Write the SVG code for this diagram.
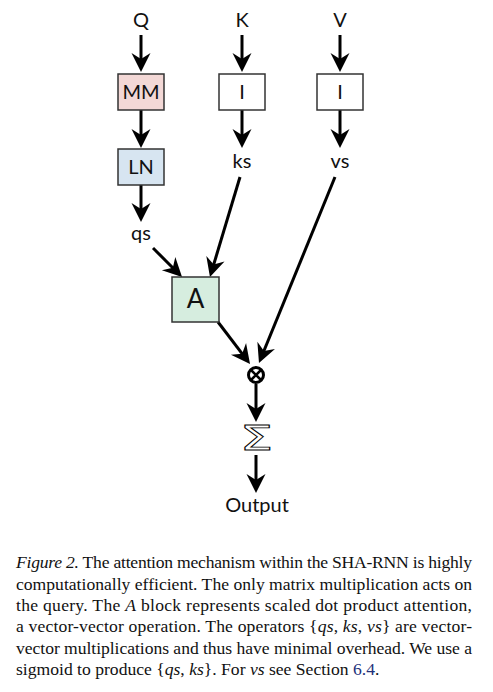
<svg xmlns="http://www.w3.org/2000/svg" width="493" height="692" viewBox="0 0 493 692">
<style>
.lbl{font-family:Lato,"Open Sans","DejaVu Sans",sans-serif;font-size:20px;fill:#111;text-anchor:middle}
.box{stroke:#333;stroke-width:1.5}
.cap{font-family:"Liberation Serif","Times New Roman",serif;font-size:17.6px;fill:#111}
.it{font-style:italic}
.edge{stroke:#000;stroke-width:3;fill:none}
</style>
<defs>
<marker id="ah" viewBox="0 0 20 20" refX="16" refY="10" markerWidth="20" markerHeight="20" markerUnits="userSpaceOnUse" orient="auto">
<path d="M1,0.5 L20,10 L1,19.5 L7,10 z" fill="#000"/>
</marker>
</defs>
<rect width="493" height="692" fill="#fff"/>
<g id="connectors" class="edge" marker-end="url(#ah)">
<line x1="141" y1="35" x2="141" y2="68"/>
<line x1="141" y1="110" x2="141" y2="144"/>
<line x1="141" y1="185" x2="141" y2="218"/>
<line x1="242" y1="35" x2="242" y2="68"/>
<line x1="340" y1="35" x2="340" y2="68"/>
<line x1="242" y1="110" x2="242" y2="144"/>
<line x1="340" y1="110" x2="340" y2="144"/>
<line x1="153" y1="248" x2="179.2" y2="274.2"/>
<line x1="240" y1="177" x2="211.1" y2="273.2"/>
<line x1="218" y1="322" x2="247.6" y2="360.8"/>
<line x1="335" y1="177" x2="260.5" y2="359.3"/>
<line x1="256" y1="384" x2="256" y2="418"/>
<line x1="256" y1="455" x2="256" y2="489"/>
</g>
<g id="Q"><text class="lbl" x="141" y="27">Q</text></g>
<g id="K"><text class="lbl" x="242" y="27">K</text></g>
<g id="V"><text class="lbl" x="340" y="27">V</text></g>
<g id="MM"><rect class="box" x="118" y="74" width="46" height="36" fill="#f3d8d6"/><text class="lbl" x="141" y="99">MM</text></g>
<g id="LN"><rect class="box" x="118" y="149" width="46" height="36" fill="#d7e5f1"/><text class="lbl" x="141" y="174">LN</text></g>
<g id="IK"><rect class="box" x="219" y="74" width="46" height="36" fill="#fff"/><text class="lbl" x="242" y="99">I</text></g>
<g id="IV"><rect class="box" x="317" y="74" width="46" height="36" fill="#fff"/><text class="lbl" x="340" y="99">I</text></g>
<g id="ks"><text class="lbl" x="242" y="168">ks</text></g>
<g id="vs"><text class="lbl" x="340" y="168">vs</text></g>
<g id="qs"><text class="lbl" x="141" y="240">qs</text></g>
<g id="A"><rect class="box" x="172" y="277" width="47" height="45" fill="#d6eddf"/><text class="lbl" x="195.5" y="308" style="font-size:26px">A</text></g>
<g id="mult">
<circle cx="256" cy="375" r="7.5" fill="#fff" stroke="#000" stroke-width="3"/>
<path d="M251,370 L261,380 M261,370 L251,380" stroke="#000" stroke-width="2.5"/>
</g>
<g id="sum"><text x="0" y="0" transform="translate(256.5,450) scale(1.55,1)" style="font-family:'DejaVu Sans',sans-serif;font-size:34px;text-anchor:middle;fill:#fff;stroke:#000;stroke-width:0.8">Σ</text></g>
<g id="Output"><text class="lbl" x="257" y="512">Output</text></g>
<g id="caption" class="cap">
<text x="16" y="568" textLength="456" lengthAdjust="spacing"><tspan class="it">Figure 2.</tspan> The attention mechanism within the SHA-RNN is highly</text>
<text x="16" y="589.5" textLength="456" lengthAdjust="spacing">computationally efficient. The only matrix multiplication acts on</text>
<text x="16" y="611" textLength="456" lengthAdjust="spacing">the query. The <tspan class="it">A</tspan> block represents scaled dot product attention,</text>
<text x="16" y="632" textLength="456" lengthAdjust="spacing">a vector-vector operation. The operators {<tspan class="it">qs</tspan>, <tspan class="it">ks</tspan>, <tspan class="it">vs</tspan>} are vector-</text>
<text x="16" y="653.5" textLength="456" lengthAdjust="spacing">vector multiplications and thus have minimal overhead. We use a</text>
<text x="16" y="675">sigmoid to produce {<tspan class="it">qs</tspan>, <tspan class="it">ks</tspan>}. For <tspan class="it">vs</tspan> see Section <tspan fill="#23307a">6.4</tspan>.</text>
</g>
</svg>
